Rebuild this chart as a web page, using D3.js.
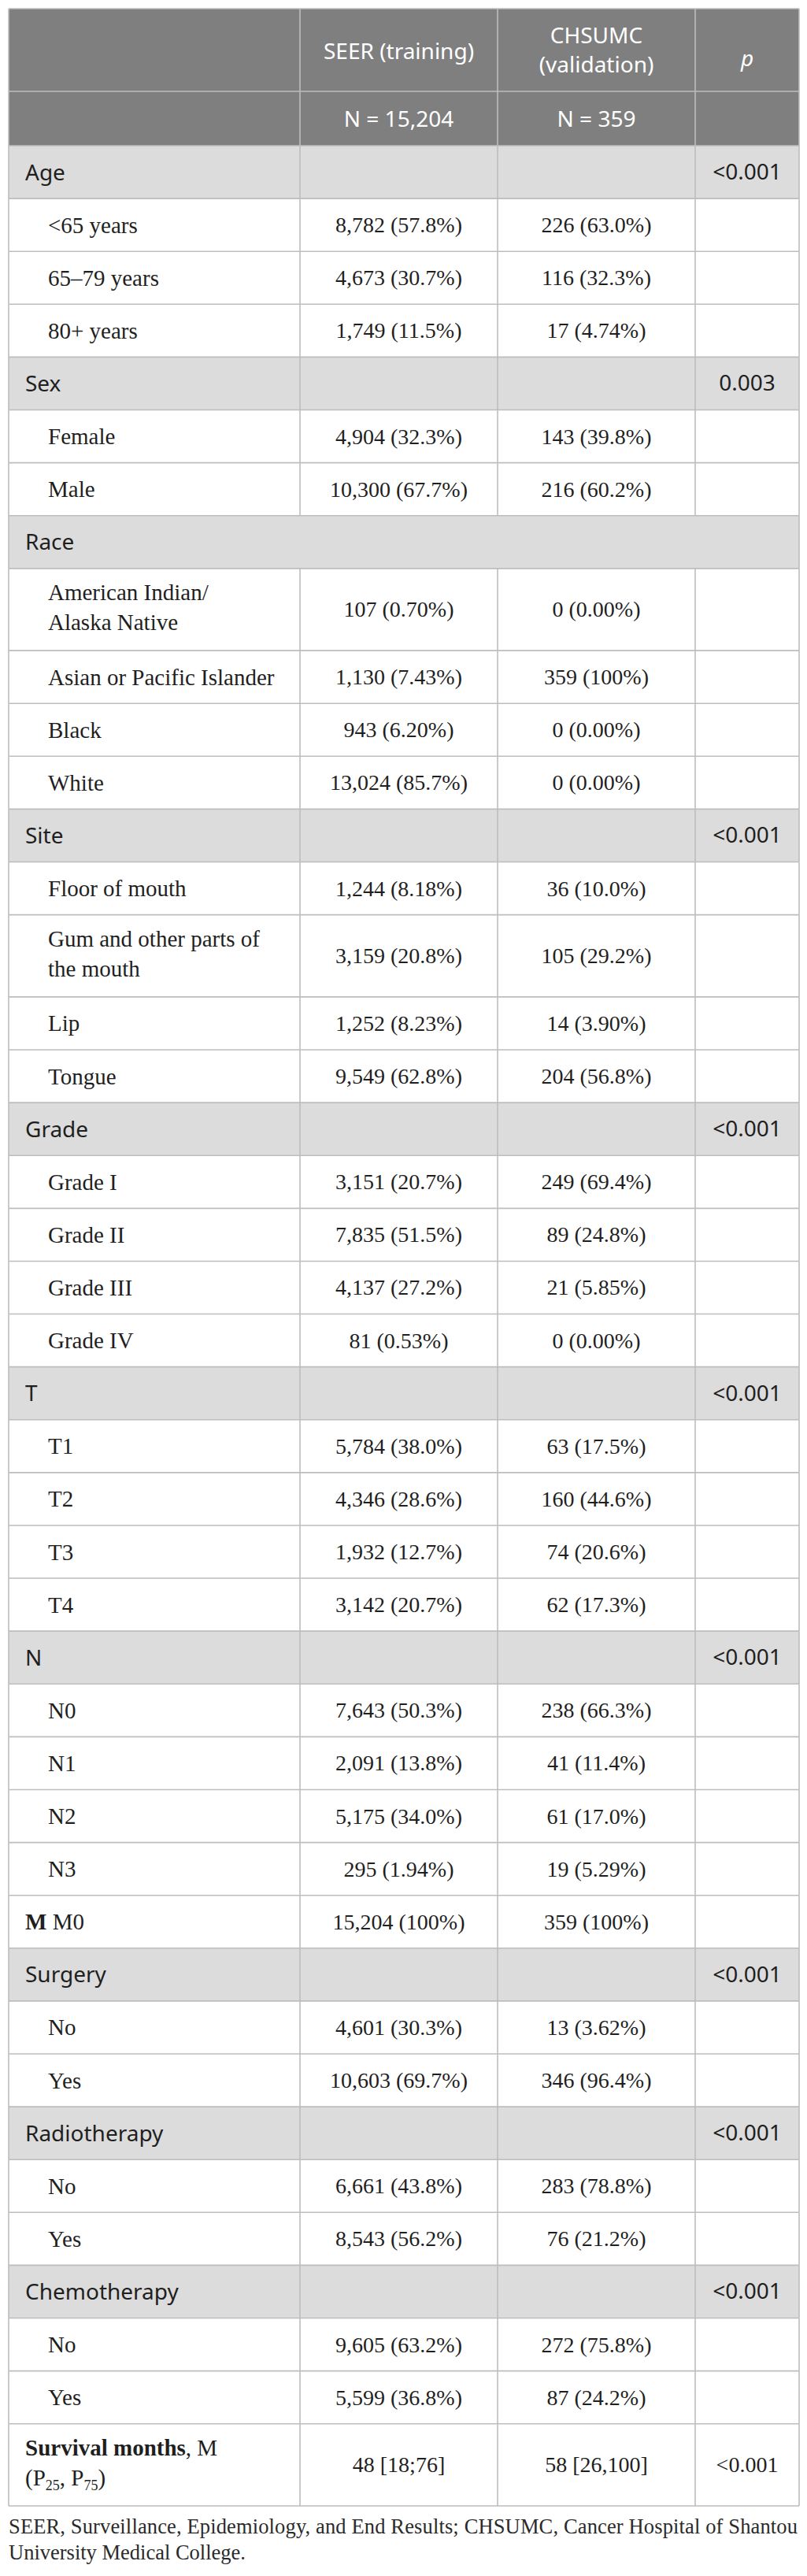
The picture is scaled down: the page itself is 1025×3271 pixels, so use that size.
<!DOCTYPE html>
<html>
<head>
<meta charset="utf-8">
<script src="https://cdn.jsdelivr.net/npm/d3@7"></script>
<style>
  body { margin: 0; background: #fff; }
</style>
</head>
<body>
<div id="viz"></div>
<script>
// table content
var headerTop = ["", "SEER (training)", "CHSUMC\n(validation)", "p"]
var headerN = ["", "N = 15,204", "N = 359", ""]

var rowLabels = [
  "Age", "<65 years", "65\u201379 years", "80+ years",
  "Sex", "Female", "Male",
  "Race", "American Indian/\nAlaska Native", "Asian or Pacific Islander", "Black", "White",
  "Site", "Floor of mouth", "Gum and other parts of\nthe mouth", "Lip", "Tongue",
  "Grade", "Grade I", "Grade II", "Grade III", "Grade IV",
  "T", "T1", "T2", "T3", "T4",
  "N", "N0", "N1", "N2", "N3",
  "**M** M0",
  "Surgery", "No", "Yes",
  "Radiotherapy", "No", "Yes",
  "Chemotherapy", "No", "Yes",
  "**Survival months**, M\n(P_{25}, P_{75})"
]
// cat = grey group row, sub = indented level, merged = grey row without column lines, plain = unindented data row
var rowKinds = [
  "cat", "sub", "sub", "sub",
  "cat", "sub", "sub",
  "merged", "sub", "sub", "sub", "sub",
  "cat", "sub", "sub", "sub", "sub",
  "cat", "sub", "sub", "sub", "sub",
  "cat", "sub", "sub", "sub", "sub",
  "cat", "sub", "sub", "sub", "sub",
  "plain",
  "cat", "sub", "sub",
  "cat", "sub", "sub",
  "cat", "sub", "sub",
  "plain"
]
var seerValues = [
  "", "8,782 (57.8%)", "4,673 (30.7%)", "1,749 (11.5%)",
  "", "4,904 (32.3%)", "10,300 (67.7%)",
  "", "107 (0.70%)", "1,130 (7.43%)", "943 (6.20%)", "13,024 (85.7%)",
  "", "1,244 (8.18%)", "3,159 (20.8%)", "1,252 (8.23%)", "9,549 (62.8%)",
  "", "3,151 (20.7%)", "7,835 (51.5%)", "4,137 (27.2%)", "81 (0.53%)",
  "", "5,784 (38.0%)", "4,346 (28.6%)", "1,932 (12.7%)", "3,142 (20.7%)",
  "", "7,643 (50.3%)", "2,091 (13.8%)", "5,175 (34.0%)", "295 (1.94%)",
  "15,204 (100%)",
  "", "4,601 (30.3%)", "10,603 (69.7%)",
  "", "6,661 (43.8%)", "8,543 (56.2%)",
  "", "9,605 (63.2%)", "5,599 (36.8%)",
  "48 [18;76]"
]
var chsumcValues = [
  "", "226 (63.0%)", "116 (32.3%)", "17 (4.74%)",
  "", "143 (39.8%)", "216 (60.2%)",
  "", "0 (0.00%)", "359 (100%)", "0 (0.00%)", "0 (0.00%)",
  "", "36 (10.0%)", "105 (29.2%)", "14 (3.90%)", "204 (56.8%)",
  "", "249 (69.4%)", "89 (24.8%)", "21 (5.85%)", "0 (0.00%)",
  "", "63 (17.5%)", "160 (44.6%)", "74 (20.6%)", "62 (17.3%)",
  "", "238 (66.3%)", "41 (11.4%)", "61 (17.0%)", "19 (5.29%)",
  "359 (100%)",
  "", "13 (3.62%)", "346 (96.4%)",
  "", "283 (78.8%)", "76 (21.2%)",
  "", "272 (75.8%)", "87 (24.2%)",
  "58 [26,100]"
]
var pValues = [
  "<0.001", "", "", "",
  "0.003", "", "",
  "", "", "", "", "",
  "<0.001", "", "", "", "",
  "<0.001", "", "", "", "",
  "<0.001", "", "", "", "",
  "<0.001", "", "", "", "",
  "",
  "<0.001", "", "",
  "<0.001", "", "",
  "<0.001", "", "",
  "<0.001"
]
var footnote = [
  "SEER, Surveillance, Epidemiology, and End Results; CHSUMC, Cancer Hospital of Shantou",
  "University Medical College."
]

var width = 1025, height = 3271
var colEdges = [11, 381, 632, 883, 1015]
var headTop = 11, headMid = 116, bodyTop = 185, bodyBottom = 3182
var tallRatio = 1.554

var sans = "'Noto Sans', 'Open Sans', sans-serif"
var serif = "'Liberation Serif', 'Times New Roman', serif"
var ink = "#1f1f1f", lineColor = "#bdbdbd"

var rows = rowLabels.map(function(l, i) {
  return {
    label: l, kind: rowKinds[i], seer: seerValues[i], chsumc: chsumcValues[i], p: pValues[i],
    lines: l.split("\n").length
  }
})
var units = rows.map(function(r) { return r.lines > 1 ? tallRatio : 1 })
var cum = [0].concat(Array.from(d3.cumsum(units)))

var yScale = d3.scaleLinear()
  .domain([0, cum[cum.length - 1]])
  .range([bodyTop, bodyBottom])

rows.forEach(function(r, i) {
  r.y0 = yScale(cum[i])
  r.y1 = yScale(cum[i + 1])
  r.cy = (r.y0 + r.y1) / 2
})

var xCenter = d3.range(4).map(function(i) { return (colEdges[i] + colEdges[i + 1]) / 2 })

var svg = d3.select('#viz')
  .append('svg')
  .attr('width', width)
  .attr('height', height)
  .style('display', 'block')
  .style('background', '#fff')

// header background
svg.append('rect')
  .attr('x', colEdges[0]).attr('y', headTop)
  .attr('width', colEdges[4] - colEdges[0]).attr('height', bodyTop - headTop)
  .attr('fill', '#7f7f7f')

// grey group rows
svg.selectAll('rect.cat')
  .data(rows.filter(function(r) { return r.kind == 'cat' || r.kind == 'merged' }))
  .enter().append('rect')
  .attr('class', 'cat')
  .attr('x', colEdges[0])
  .attr('y', function(d) { return d.y0 })
  .attr('width', colEdges[4] - colEdges[0])
  .attr('height', function(d) { return d.y1 - d.y0 })
  .attr('fill', '#dcdcdc')

// horizontal rules
var hLines = [headTop, headMid, bodyTop].concat(rows.map(function(r) { return r.y1 }))
svg.selectAll('line.h')
  .data(hLines)
  .enter().append('line')
  .attr('x1', colEdges[0]).attr('x2', colEdges[4])
  .attr('y1', function(d) { return d }).attr('y2', function(d) { return d })
  .attr('stroke', lineColor).attr('stroke-width', 1.6)

// vertical rules, per row so merged rows can skip inner ones
var segs = [{y0: headTop, y1: bodyTop, kind: 'head'}].concat(rows)
segs.forEach(function(s) {
  var xs = s.kind == 'merged' ? [colEdges[0], colEdges[4]] : colEdges
  svg.selectAll(null)
    .data(xs)
    .enter().append('line')
    .attr('x1', function(d) { return d }).attr('x2', function(d) { return d })
    .attr('y1', s.y0).attr('y2', s.y1)
    .attr('stroke', lineColor).attr('stroke-width', 1.6)
})

// header text
var hdr = svg.append('g')
  .attr('fill', '#fff')
  .style('font-family', sans)
  .style('font-size', '28px')
  .attr('text-anchor', 'middle')

headerTop.forEach(function(t, i) {
  if (!t) return
  var lines = t.split("\n")
  var base = lines.length > 1 ? [55, 92] : [i == 3 ? 84 : 75]
  lines.forEach(function(l, k) {
    hdr.append('text')
      .attr('x', xCenter[i]).attr('y', base[k])
      .style('font-style', i == 3 ? 'italic' : null)
      .text(l)
  })
})
headerN.forEach(function(t, i) {
  if (!t) return
  hdr.append('text')
    .attr('x', xCenter[i]).attr('y', (headMid + bodyTop) / 2 + 10)
    .text(t)
})

// draws a label line with **bold** and _{sub} pieces
function richText(sel, str) {
  var parts = str.split(/(\*\*[^*]+\*\*|_\{[^}]+\})/).filter(function(p) { return p.length })
  var shifted = false
  parts.forEach(function(p) {
    var ts = sel.append('tspan')
    if (p.indexOf('**') == 0) {
      ts.style('font-weight', 'bold').text(p.slice(2, -2))
      if (shifted) { ts.attr('dy', -6); shifted = false }
    } else if (p.indexOf('_{') == 0) {
      ts.style('font-size', '18px').attr('dy', 6).text(p.slice(2, -1))
      shifted = true
    } else {
      ts.text(p)
      if (shifted) { ts.attr('dy', -6); shifted = false }
    }
  })
}

var body = svg.append('g').attr('fill', ink).style('font-size', '28px')

rows.forEach(function(r) {
  var isCat = r.kind == 'cat' || r.kind == 'merged'
  var lx = r.kind == 'sub' ? 61 : 32
  var lines = r.label.split("\n")
  var first = lines.length > 1 ? r.cy - 12 : r.cy + 10
  lines.forEach(function(l, k) {
    var t = body.append('text')
      .attr('x', lx).attr('y', first + k * 38)
      .style('font-family', isCat ? sans : serif)
      .style('font-size', isCat ? '28px' : '29px')
    richText(t, l)
  })
  ;[r.seer, r.chsumc, r.p].forEach(function(v, j) {
    if (!v) return
    body.append('text')
      .attr('x', xCenter[j + 1]).attr('y', r.cy + 9.5)
      .attr('text-anchor', 'middle')
      .style('font-family', isCat ? sans : serif)
      .text(v)
  })
})

// footnote
svg.selectAll('text.note')
  .data(footnote)
  .enter().append('text')
  .attr('class', 'note')
  .attr('x', colEdges[0])
  .attr('y', function(d, i) { return 3217 + i * 33 })
  .attr('fill', '#2a2a2a')
  .style('font-family', serif)
  .style('font-size', '26.5px')
  .text(function(d) { return d })
  .each(function(d, i) {
    if (i == 0) d3.select(this).attr('textLength', 1002).attr('lengthAdjust', 'spacing')
  })
</script>
</body>
</html>
